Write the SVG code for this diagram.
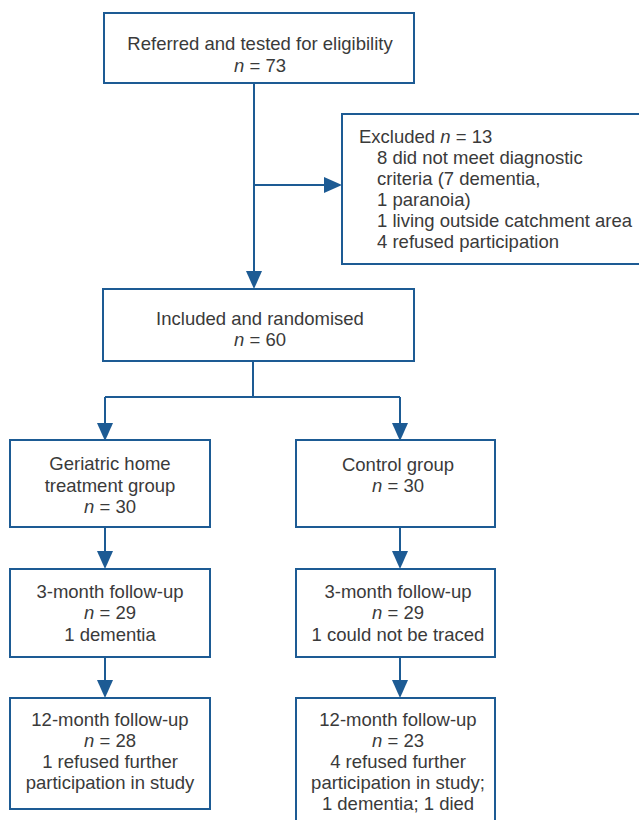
<svg xmlns="http://www.w3.org/2000/svg" width="639" height="820" viewBox="0 0 639 820">
<style>
.box{fill:#fff;stroke:#1d5b94;stroke-width:2}
.ln{fill:none;stroke:#1d5b94;stroke-width:2}
text{font-family:"Liberation Sans",Arial,sans-serif;font-size:18.5px;fill:#3a3a3a}
.c{text-anchor:middle}
.i{font-style:italic}
</style>
<defs>
<path id="arr" d="M0,0 L-8,-18 L8,-18 Z" fill="#1d5b94"/>
</defs>
<rect width="639" height="820" fill="#fff"/>
<g id="connectors">
<path class="ln" d="M254,83 V272"/>
<use href="#arr" x="254" y="289"/>
<path class="ln" d="M254,185 H326"/>
<path d="M342,185 L324,177 L324,193 Z" fill="#1d5b94"/>
<path class="ln" d="M253,361 V397 M105,397 H400 M105,397 V424 M400,397 V424"/>
<use href="#arr" x="105" y="441"/>
<use href="#arr" x="400" y="441"/>
<path class="ln" d="M105,527 V552 M400,527 V552"/>
<use href="#arr" x="105" y="569"/>
<use href="#arr" x="400" y="569"/>
<path class="ln" d="M105,657 V681 M400,657 V681"/>
<use href="#arr" x="105" y="698"/>
<use href="#arr" x="400" y="698"/>
</g>
<g id="referred">
<rect class="box" x="104" y="13" width="310" height="70"/>
<text class="c" x="260" y="50">Referred and tested for eligibility</text>
<text class="c" x="260" y="72"><tspan class="i">n</tspan> = 73</text>
</g>
<g id="excluded">
<rect class="box" x="342" y="114" width="310" height="150"/>
<text x="359" y="143">Excluded <tspan class="i">n</tspan> = 13</text>
<text x="377" y="164">8 did not meet diagnostic</text>
<text x="377" y="185">criteria (7 dementia,</text>
<text x="377" y="206">1 paranoia)</text>
<text x="377" y="227">1 living outside catchment area</text>
<text x="377" y="248">4 refused participation</text>
</g>
<g id="included">
<rect class="box" x="103" y="289" width="311" height="72"/>
<text class="c" x="260" y="325">Included and randomised</text>
<text class="c" x="260" y="346"><tspan class="i">n</tspan> = 60</text>
</g>
<g id="geriatric">
<rect class="box" x="10" y="440" width="200" height="87"/>
<text class="c" x="110" y="470">Geriatric home</text>
<text class="c" x="110" y="492">treatment group</text>
<text class="c" x="110" y="513"><tspan class="i">n</tspan> = 30</text>
</g>
<g id="control">
<rect class="box" x="296" y="440" width="199" height="87"/>
<text class="c" x="398" y="471">Control group</text>
<text class="c" x="398" y="492"><tspan class="i">n</tspan> = 30</text>
</g>
<g id="left3">
<rect class="box" x="10" y="569" width="200" height="88"/>
<text class="c" x="110" y="598">3-month follow-up</text>
<text class="c" x="110" y="619"><tspan class="i">n</tspan> = 29</text>
<text class="c" x="110" y="641">1 dementia</text>
</g>
<g id="right3">
<rect class="box" x="296" y="569" width="199" height="88"/>
<text class="c" x="398" y="598">3-month follow-up</text>
<text class="c" x="398" y="619"><tspan class="i">n</tspan> = 29</text>
<text class="c" x="398" y="641">1 could not be traced</text>
</g>
<g id="left12">
<rect class="box" x="10" y="698" width="200" height="111"/>
<text class="c" x="110" y="726">12-month follow-up</text>
<text class="c" x="110" y="747"><tspan class="i">n</tspan> = 28</text>
<text class="c" x="110" y="768">1 refused further</text>
<text class="c" x="110" y="789">participation in study</text>
</g>
<g id="right12">
<rect class="box" x="296" y="698" width="199" height="130"/>
<text class="c" x="398" y="726">12-month follow-up</text>
<text class="c" x="398" y="747"><tspan class="i">n</tspan> = 23</text>
<text class="c" x="398" y="768">4 refused further</text>
<text class="c" x="398" y="789">participation in study;</text>
<text class="c" x="398" y="810">1 dementia; 1 died</text>
</g>
</svg>
